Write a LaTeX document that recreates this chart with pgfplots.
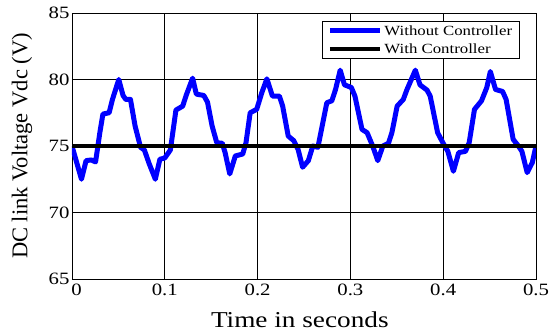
\documentclass[border=0pt]{standalone}
\usepackage{pgfplots}
\pgfplotsset{compat=1.18}
\usepackage{fontspec}
\setmainfont{Liberation Serif}[FakeStretch=1.2]
\newfontfamily\ylfont{Liberation Serif}
\definecolor{mblue}{RGB}{0,0,255}
\begin{document}
\begin{tikzpicture}
\begin{axis}[
  scale only axis,
  width=464pt, height=266pt,
  xmin=0, xmax=0.5, ymin=65, ymax=85,
  xtick={0,0.1,...,0.5}, ytick={65,70,...,85},
  xticklabels={\hspace{9pt}0,0.1,0.2,0.3,0.4,0.5},
  grid=major,
  major grid style={black, line width=0.8pt},
  axis line style={black, line width=0.8pt},
  tick style={draw=none},
  /pgf/number format/assume math mode=true,
  ticklabel style={font=\fontsize{17.3}{19}\selectfont},
  xticklabel style={yshift=-1pt},
  yticklabel style={xshift=1pt},
  xlabel={Time in seconds},
  ylabel={DC link Voltage Vdc (V)},
  xlabel style={font=\fontsize{22.7}{24}\selectfont, at={(axis description cs:0.491,-0.184)}, anchor=base},
  ylabel style={font=\ylfont\fontsize{22.5}{24}\selectfont, at={(axis description cs:-0.108,0.5)}, anchor=center},
  legend style={at={(0.539,0.97)}, anchor=north west, draw=black, line width=0.8pt,
    font=\fontsize{14}{17}\selectfont, row sep=3pt, inner xsep=5pt, inner ysep=2pt},
  legend cell align=left,
  legend image code/.code={\draw[#1] (0pt,0pt) -- (50pt,0pt);},
]
\addplot[mblue, line width=5pt, line join=round] coordinates {
(0,75.0) (0.0102,72.5) (0.0152,73.9) (0.0208,73.95) (0.0254,73.8) (0.030,76.0) (0.0333,77.4) (0.040,77.5) (0.0436,78.5) (0.0504,80.0) (0.055,78.8) (0.058,78.5) (0.063,78.5) (0.068,76.5) (0.0739,74.9) (0.078,74.7) (0.083,73.7) (0.0898,72.5) (0.0947,74.0) (0.100,74.1) (0.106,74.7) (0.112,77.7) (0.1193,78.0) (0.123,78.8) (0.130,80.1) (0.134,78.9) (0.142,78.8) (0.146,78.3) (0.151,76.5) (0.156,75.25) (0.162,75.2) (0.165,74.5) (0.170,72.9) (0.176,74.25) (0.184,74.4) (0.1875,75.25) (0.192,77.5) (0.199,77.75) (0.2045,79.0) (0.210,80.05) (0.216,78.75) (0.2235,78.75) (0.227,78.0) (0.233,75.75) (0.239,75.4) (0.2436,74.75) (0.2485,73.4) (0.2547,73.9) (0.2595,75.0) (0.265,74.9) (0.271,77.0) (0.2746,78.25) (0.280,78.4) (0.284,79.25) (0.289,80.7) (0.2936,79.6) (0.301,79.4) (0.3049,78.75) (0.3125,76.25) (0.318,76.0) (0.324,75.0) (0.3295,73.9) (0.335,75.0) (0.341,75.2) (0.3447,76.0) (0.3504,78.0) (0.357,78.5) (0.361,79.25) (0.370,80.7) (0.375,79.6) (0.3826,79.2) (0.386,78.75) (0.394,76.0) (0.3996,75.25) (0.405,74.6) (0.411,73.1) (0.4167,74.5) (0.424,74.6) (0.428,75.25) (0.4337,77.75) (0.4413,78.4) (0.447,79.4) (0.4508,80.6) (0.4564,79.25) (0.464,79.1) (0.4678,78.5) (0.4754,75.5) (0.481,75.0) (0.4848,74.6) (0.4905,73.0) (0.496,73.75) (0.5,75.0)
};
\addlegendentry{Without Controller}
\addplot[black, line width=4.5pt] coordinates {(0,75) (0.5,75)};
\addlegendentry{With Controller}
\end{axis}
\pgfresetboundingbox
\useasboundingbox (-72pt,-57pt) rectangle (478pt,279pt);
\end{tikzpicture}
\end{document}
